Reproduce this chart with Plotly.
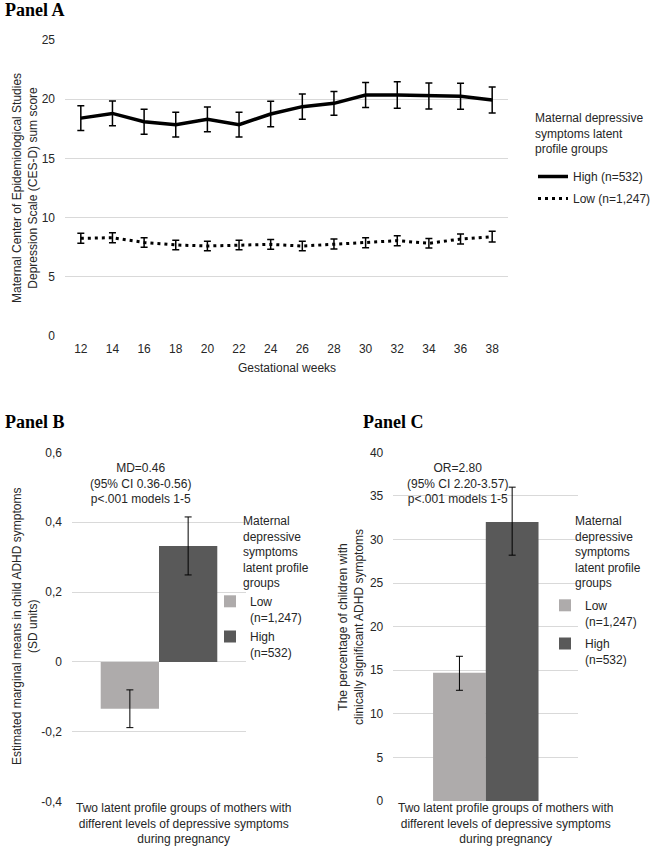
import plotly.graph_objects as go

W, H = 653, 847

# ---------------- data ----------------
weeks = ["12", "14", "16", "18", "20", "22", "24", "26", "28", "30", "32", "34", "36", "38"]
high_mean = [18.4, 18.8, 18.1, 17.85, 18.3, 17.85, 18.75, 19.37, 19.65, 20.35, 20.35, 20.27, 20.25, 19.93]
high_err = [1.05, 1.05, 1.05, 1.05, 1.05, 1.05, 1.08, 1.07, 1.0, 1.05, 1.12, 1.1, 1.1, 1.1]
low_mean = [8.25, 8.3, 7.9, 7.69, 7.6, 7.69, 7.74, 7.6, 7.77, 7.88, 8.05, 7.83, 8.19, 8.39]
low_err = [0.42, 0.42, 0.4, 0.4, 0.4, 0.4, 0.42, 0.4, 0.42, 0.42, 0.42, 0.4, 0.42, 0.46]

group_label = "Two latent profile groups of mothers with<br>different levels of depressive symptoms<br>during pregnancy"
groups = ["Low<br>(n=1,247)", "High<br>(n=532)"]

# Panel B: estimated marginal means (SD units)
b_means = [-0.134, 0.332]
b_err = [0.054, 0.083]
b_ticks = [-0.4, -0.2, 0, 0.2, 0.4, 0.6]
b_ticktext = ["-0,4", "-0,2", "0", "0,2", "0,4", "0,6"]

# Panel C: percentage with clinically significant ADHD symptoms
c_means = [14.7, 32.0]
c_err_plus = [1.9, 4.0]
c_err_minus = [2.0, 3.8]
c_ticks = [0, 5, 10, 15, 20, 25, 30, 35, 40]

bar_colors = ["#AEABAB", "#595959"]
TXT = "#262626"
GRID = "#D9D9D9"
FONT = "Liberation Sans"


def px(x):
    return x / W


def py(y):
    return 1 - y / H


fig = go.Figure()

# ---------------- Panel A ----------------
fig.add_trace(go.Scatter(
    x=weeks, y=high_mean, name="High (n=532)", mode="lines", legendgroup="high",
    line=dict(color="black", width=3.5),
    error_y=dict(type="data", array=high_err, color="black", thickness=1.5, width=3.5),
    xaxis="x", yaxis="y", legend="legend"))
fig.add_trace(go.Scatter(
    x=weeks, y=low_mean, name="Low (n=1,247)", mode="lines", legendgroup="low",
    line=dict(color="black", width=3, dash="3px,4px"),
    error_y=dict(type="data", array=low_err, color="black", thickness=1.5, width=3.5),
    xaxis="x", yaxis="y", legend="legend"))

# ---------------- Panel B ----------------
wb = 0.335
for i in range(2):
    fig.add_trace(go.Bar(
        x=[group_label], y=[b_means[i]], name=groups[i], legendgroup="b%d" % i,
        marker=dict(color=bar_colors[i], line=dict(width=0)),
        width=wb, offset=-wb if i == 0 else 0,
        error_y=dict(type="data", array=[b_err[i]], color="black", thickness=1, width=3.5),
        xaxis="x2", yaxis="y2", legend="legend2"))

# ---------------- Panel C ----------------
wc = 0.285
for i in range(2):
    fig.add_trace(go.Bar(
        x=[group_label], y=[c_means[i]], name=groups[i], legendgroup="c%d" % i,
        marker=dict(color=bar_colors[i], line=dict(width=0)),
        width=wc, offset=-wc if i == 0 else 0,
        error_y=dict(type="data", symmetric=False, array=[c_err_plus[i]],
                     arrayminus=[c_err_minus[i]], color="black", thickness=1, width=3.5),
        xaxis="x3", yaxis="y3", legend="legend3"))

tickfont = dict(family=FONT, size=12, color=TXT)
common_y = dict(showgrid=True, gridcolor=GRID, gridwidth=1, zeroline=False, showline=False,
                ticks="", tickfont=tickfont, ticklabelstandoff=9, fixedrange=True)
common_x = dict(showgrid=False, zeroline=False, showline=False, ticks="", fixedrange=True)

legend_font = dict(family=FONT, size=12, color=TXT)
leg_common = dict(xanchor="left", yanchor="top", font=legend_font, bgcolor="rgba(0,0,0,0)",
                  itemwidth=30, traceorder="grouped")
fig.update_layout(
    width=W, height=H,
    margin=dict(l=0, r=0, t=0, b=0, autoexpand=False),
    paper_bgcolor="white", plot_bgcolor="white",
    font=dict(family=FONT, size=12, color=TXT),
    separators=",.",
    barmode="group",
    xaxis=dict(domain=[px(65), px(508)], anchor="y", type="category", range=[-0.5, 13.5],
               tickfont=tickfont, ticklabelstandoff=4, **common_x),
    yaxis=dict(domain=[py(336), py(40)], anchor="x", range=[0, 25],
               tickvals=[0, 5, 10, 15, 20, 25], **common_y),
    xaxis2=dict(domain=[px(72), px(246)], anchor="y2", type="category",
                range=[-0.5, 0.5], showticklabels=False, **common_x),
    yaxis2=dict(domain=[py(801.7), py(452.3)], anchor="x2", range=[-0.4, 0.6],
                tickvals=b_ticks, ticktext=b_ticktext, **common_y),
    xaxis3=dict(domain=[px(393.3), px(578.3)], anchor="y3", type="category",
                range=[-0.5, 0.5], showticklabels=False, **common_x),
    yaxis3=dict(domain=[py(801), py(452.3)], anchor="x3", range=[0, 40],
                tickvals=c_ticks, **common_y),
    legend=dict(x=px(533), y=py(162), tracegroupgap=3, **leg_common),
    legend2=dict(x=px(210), y=py(587), valign="top", tracegroupgap=1, **leg_common),
    legend3=dict(x=px(545), y=py(591), valign="top", tracegroupgap=4, **leg_common),
    showlegend=True,
)

ann = []


def add_text(text, x, y, font, xanchor="center", angle=0, align="center"):
    ann.append(dict(text=text, x=px(x), y=py(y), xref="paper", yref="paper",
                    xanchor=xanchor, yanchor="middle", align=align, textangle=angle,
                    showarrow=False, font=font))


body = dict(family=FONT, size=12, color=TXT)
title_font = dict(family="Liberation Serif", size=18, color="black")
add_text("<b>Panel A</b>", 3, 10, title_font, xanchor="left")
add_text("<b>Panel B</b>", 3, 422, title_font, xanchor="left")
add_text("<b>Panel C</b>", 361, 422, title_font, xanchor="left")

# axis titles
add_text("Maternal Center of Epidemiological Studies<br>Depression Scale (CES-D) sum score", 25, 188, body, angle=-90)
add_text("Gestational weeks", 287, 368, body)
add_text("Estimated marginal means in child ADHD symptoms<br>(SD units)", 25, 627, body, angle=-90)
add_text("The percentage of children with<br>clinically significant ADHD symptoms", 351, 627, body, angle=-90)
add_text(group_label, 183, 823, body)
add_text(group_label, 505, 823, body)

# statistics text
add_text("MD=0.46<br>(95% CI 0.36-0.56)<br>p<.001 models 1-5", 140, 483, body)
add_text("OR=2.80<br>(95% CI 2.20-3.57)<br>p<.001 models 1-5", 458, 483, body)

# legend titles
add_text("Maternal depressive<br>symptoms latent<br>profile groups", 533, 133.7, body,
         xanchor="left", align="left")
for x in (240.7, 572.7):
    add_text("Maternal<br>depressive<br>symptoms<br>latent profile<br>groups", x, 551.5, body,
             xanchor="left", align="left")

fig.update_layout(annotations=ann)
fig.write_html("out.html", config={"displayModeBar": False},
               post_script="document.body.style.margin='0px';document.body.style.overflow='hidden';")
